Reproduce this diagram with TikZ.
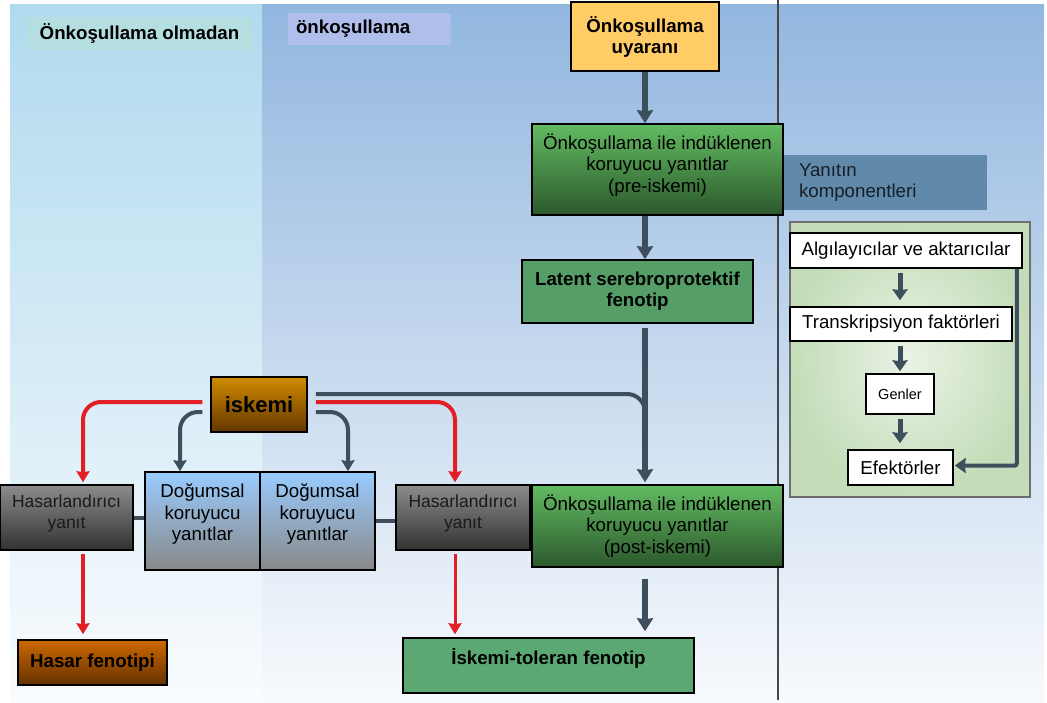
\documentclass[tikz,border=0pt]{standalone}
\usepackage{fontspec}
\setmainfont{Liberation Sans}
\usetikzlibrary{positioning,arrows.meta,calc}
\definecolor{leftbgtop}{RGB}{176,218,238}
\definecolor{leftbgbottom}{RGB}{250,252,254}
\definecolor{midbgtop}{RGB}{146,183,223}
\definecolor{midbgbottom}{RGB}{248,250,253}
\definecolor{sepcol}{RGB}{70,70,75}
\definecolor{slatecol}{RGB}{61,79,92}
\definecolor{redcol}{RGB}{227,30,36}
\definecolor{stimcol}{RGB}{255,204,102}
\definecolor{greentop}{RGB}{98,187,98}
\definecolor{greenbottom}{RGB}{44,88,44}
\definecolor{phenocol}{RGB}{86,158,104}
\definecolor{tolcol}{RGB}{92,168,114}
\definecolor{iskemitop}{RGB}{208,140,0}
\definecolor{iskemibottom}{RGB}{100,54,0}
\definecolor{hasartop}{RGB}{206,104,0}
\definecolor{hasarbottom}{RGB}{100,50,0}
\definecolor{graytop}{RGB}{140,140,140}
\definecolor{graybottom}{RGB}{50,50,50}
\definecolor{bluetop}{RGB}{153,204,255}
\definecolor{bluebottom}{RGB}{136,136,136}
\definecolor{compcol}{RGB}{96,137,170}
\definecolor{comptext}{RGB}{22,30,40}
\definecolor{paneltop}{RGB}{234,243,230}
\definecolor{panelout}{RGB}{196,220,184}
\definecolor{panelborder}{RGB}{110,110,110}
\definecolor{headleft}{RGB}{181,222,224}
\definecolor{headmid}{RGB}{176,190,236}

\begin{document}
\begin{tikzpicture}[
                x=1pt, y=-1pt,
                box/.style={rectangle, draw=black, line width=1.5pt, align=center, inner sep=2pt, font=\fontsize{18.7}{21.5}\selectfont, text=black},
                boldbox/.style={box, font=\fontsize{18.7}{21}\selectfont\bfseries},
                greenbox/.style={box, top color=greentop, bottom color=greenbottom},
                graybox/.style={box, font=\fontsize{17.5}{21}\selectfont, top color=graytop, bottom color=graybottom, text=black!90},
                bluebox/.style={box, top color=bluetop, bottom color=bluebottom},
                whitebox/.style={box, fill=white},
                header/.style={rectangle, font=\fontsize{18.7}{21}\selectfont\bfseries, inner sep=0pt},
                mainarrow/.style={-{Stealth[inset=1pt, length=13pt, width=16pt]}, line width=6.5pt, draw=slatecol},
                branch/.style={line width=4pt, draw=slatecol, rounded corners=18pt},
                brancharrow/.style={branch, -{Stealth[inset=1pt, length=11pt, width=13pt]}},
                redarrow/.style={brancharrow, draw=redcol},
                comparrow/.style={-{Stealth[inset=1pt, length=11pt, width=15pt]}, line width=5pt, draw=slatecol}
                ]
                \useasboundingbox (0,0) rectangle (1047,702);
                \fill[white] (0,0) rectangle (1047,702);

                % background panels
                \shade[top color=leftbgtop, bottom color=leftbgbottom] (10,4) rectangle (262,702);
                \shade[top color=midbgtop, bottom color=midbgbottom] (262,4) rectangle (1044,702);
                \draw[sepcol, line width=1.5pt] (778,0) -- (778,700);

                \node[header, fill=headleft, minimum width=225pt, minimum height=33pt] (hleft) at (139.5,33.5) {Önkoşullama olmadan};
                \node[header, fill=headmid, minimum width=163pt, minimum height=32pt, text width=147pt, align=left] (hmid) at (369.5,29) {önkoşullama};

                \node[boldbox, fill=stimcol, minimum width=148pt, minimum height=69pt] (ua) at (645,36.5) {Önkoşullama\\uyaranı};
                \node[rectangle, fill=compcol, minimum width=204pt, minimum height=55pt, text width=172pt, align=left, font=\fontsize{18.7}{21}\selectfont, text=comptext] (yan) at (885,182.5) {Yanıtın\\komponentleri};
                \node[greenbox, minimum width=251pt, minimum height=91pt, text depth=13pt] (pre) at (657.5,169.5) {Önkoşullama ile indüklenen\\koruyucu yanıtlar\\(pre-iskemi)};
                \node[boldbox, fill=phenocol, minimum width=231pt, minimum height=63pt] (lat) at (637.5,291.5) {Latent serebroprotektif\\fenotip};

                \node[boldbox, top color=iskemitop, bottom color=iskemibottom, font=\fontsize{22}{24}\selectfont\bfseries, minimum width=96pt, minimum height=55pt] (isk) at (259,404.5) {iskemi};

                \node[graybox, minimum width=133pt, minimum height=65pt, text depth=12pt] (hr1) at (66.5,517.5) {Hasarlandırıcı\\yanıt};
                \node[bluebox, minimum width=115pt, minimum height=98pt, text depth=17pt] (dl) at (202.5,521) {Doğumsal\\koruyucu\\yanıtlar};
                \node[bluebox, minimum width=115pt, minimum height=98pt, text depth=17pt] (dr) at (317.5,521) {Doğumsal\\koruyucu\\yanıtlar};
                \node[graybox, minimum width=134pt, minimum height=65pt, text depth=12pt] (hr2) at (463,517.5) {Hasarlandırıcı\\yanıt};
                \node[greenbox, minimum width=251pt, minimum height=82pt] (post) at (657.5,526) {Önkoşullama ile indüklenen\\koruyucu yanıtlar\\(post-iskemi)};

                \node[boldbox, top color=hasartop, bottom color=hasarbottom, minimum width=149pt, minimum height=45pt] (hf) at (92.5,662.5) {Hasar fenotipi};
                \node[boldbox, fill=tolcol, minimum width=291pt, minimum height=55pt, text depth=19pt] (tol) at (548.5,665.5) {İskemi-toleran fenotip};

                % response components
                \node[rectangle, draw=panelborder, line width=1.5pt, inner color=paneltop, outer color=panelout, minimum width=240pt, minimum height=275pt] (comp) at (910,359.5) {};
                \node[whitebox, minimum width=232pt, minimum height=35pt] (alg) at (906,250.5) {Algılayıcılar ve aktarıcılar};
                \node[whitebox, minimum width=222pt, minimum height=34pt] (tf) at (901,324) {Transkripsiyon faktörleri};
                \node[whitebox, font=\fontsize{14.5}{16}\selectfont, minimum width=68pt, minimum height=40pt] (gen) at (900,394) {Genler};
                \node[whitebox, minimum width=105pt, minimum height=35pt] (eff) at (900.5,467.5) {Efektörler};

                \coordinate (merge) at (ua.south |- 0,440);

                \draw[mainarrow] (ua.south) -- (ua.south |- pre.north);
                \draw[mainarrow] (ua.south |- pre.south) -- (ua.south |- lat.north);
                \draw[mainarrow, shorten <=4pt, shorten >=2pt] (ua.south |- lat.south) -- (ua.south |- post.north);
                \draw[mainarrow, shorten <=11pt, shorten >=6pt] (ua.south |- post.south) -- (ua.south |- tol.north);

                % ischemia branches
                \draw[branch] ([xshift=8pt,yshift=10.5pt]isk.east) -| (merge);
                \draw[redarrow, shorten >=2pt] ([xshift=8pt,yshift=2.5pt]isk.east) -| ([xshift=-8pt]hr2.north);
                \draw[brancharrow] ([xshift=8pt,yshift=-7.5pt]isk.east) -| ([xshift=30.5pt]dr.north);
                \draw[brancharrow] ([xshift=-8pt,yshift=-7.5pt]isk.west) -| ([xshift=-22.5pt]dl.north);
                \draw[redarrow, shorten >=2pt] ([xshift=-8pt,yshift=2.5pt]isk.west) -| ([xshift=16.5pt]hr1.north);

                \draw[branch] (hr1.east) -- (hr1.east -| dl.west);
                \draw[branch] (dr.east) -- (dr.east -| hr2.west);

                \draw[redarrow, shorten <=3pt, shorten >=5pt] ([xshift=16.5pt]hr1.south) -- ([xshift=16.5pt]hr1.south |- hf.north);
                \draw[redarrow, line width=3pt, shorten <=3pt, shorten >=3pt] ([xshift=-8pt]hr2.south) -- ([xshift=-8pt]hr2.south |- tol.north);

                \draw[comparrow, shorten <=4pt, shorten >=6pt] (alg.south -| gen.north) -- (tf.north -| gen.north);
                \draw[comparrow, shorten <=4pt, shorten >=2pt] (tf.south -| gen.north) -- (gen.north);
                \draw[comparrow, shorten <=4pt, shorten >=6pt] (gen.south) -- (gen.south |- eff.north);
                \draw[comparrow, line width=4pt, rounded corners=2pt, shorten >=1pt] ([xshift=-6pt]alg.south east) |- ([yshift=2pt]eff.east);
            \end{tikzpicture}
\end{document}
